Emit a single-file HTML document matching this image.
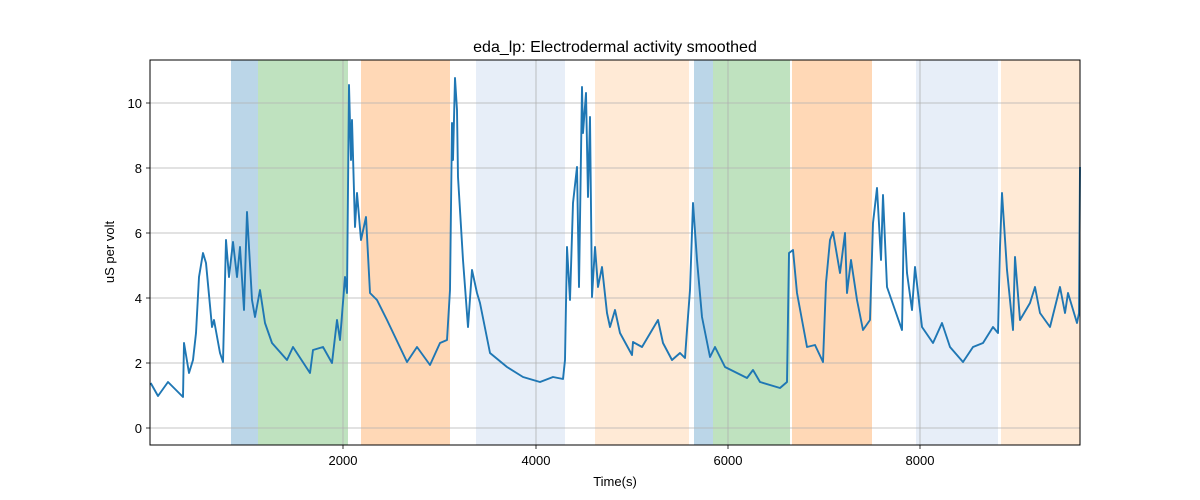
<!DOCTYPE html>
<html><head><meta charset="utf-8"><style>body{margin:0;background:#fff}svg{display:block;font-family:"Liberation Sans","DejaVu Sans",sans-serif}</style></head><body>
<svg width="1200" height="500" xmlns="http://www.w3.org/2000/svg">
<rect width="1200" height="500" fill="#fff"/>
<g>
<rect x="231" y="60" width="27" height="385" fill="#1f77b4" opacity="0.3"/>
<rect x="258" y="60" width="90" height="385" fill="#2ca02c" opacity="0.3"/>
<rect x="361" y="60" width="89" height="385" fill="#ff7f0e" opacity="0.3"/>
<rect x="476" y="60" width="89" height="385" fill="#aec7e8" opacity="0.3"/>
<rect x="595" y="60" width="94" height="385" fill="#ffbb78" opacity="0.3"/>
<rect x="694" y="60" width="19" height="385" fill="#1f77b4" opacity="0.3"/>
<rect x="713" y="60" width="77" height="385" fill="#2ca02c" opacity="0.3"/>
<rect x="792" y="60" width="80" height="385" fill="#ff7f0e" opacity="0.3"/>
<rect x="916" y="60" width="82" height="385" fill="#aec7e8" opacity="0.3"/>
<rect x="1001" y="60" width="79" height="385" fill="#ffbb78" opacity="0.3"/>
</g>
<g stroke="#b0b0b0" stroke-width="0.8">
<line x1="343" y1="60" x2="343" y2="445"/><line x1="536" y1="60" x2="536" y2="445"/><line x1="728" y1="60" x2="728" y2="445"/><line x1="920" y1="60" x2="920" y2="445"/>
<line x1="150" y1="428" x2="1080" y2="428"/><line x1="150" y1="363" x2="1080" y2="363"/><line x1="150" y1="298" x2="1080" y2="298"/><line x1="150" y1="233" x2="1080" y2="233"/><line x1="150" y1="168" x2="1080" y2="168"/><line x1="150" y1="103" x2="1080" y2="103"/>
</g>
<polyline fill="none" stroke="#1f77b4" stroke-width="1.9" stroke-linejoin="round" points="150.7,383 158,396 168,382 183,397 184,343 189,373 193,360 196,333 199,277 203,253 206,263 212,327 214,320 220,353 223,362 226,240 229,277 233,242 237,277 240,247 244,310 247,212 252,300 255,317 260,290 265,323 272,343 287,360 293,347 310,373 313,350 323,347 332,363 337,320 340,340 345,277 347,293 349,85 351,160 352,120 355,227 357,193 361,240 366,217 370,293 377,300 387,320 407,362 417,347 430,365 440,343 447,340 450,290 452,123 453,160 455,78 457,110 458,177 463,260 468,327 472,270 477,293 480,303 490,353 507,367 523,377 540,382 553,377 563,379 565,360 567,247 570,300 573,203 577,167 579,287 582,87 583,133 586,93 588,197 590,117 592,297 595,247 598,287 602,267 607,313 610,327 615,310 620,333 632,355 633,342 642,347 658,320 663,343 672,360 680,353 685,358 687,330 690,290 693,203 697,260 702,317 710,357 715,347 725,367 747,378 753,370 760,382 780,388 787,382 789,253 793,250 797,293 807,347 815,345 823,362 826,283 830,240 833,232 840,273 845,233 847,293 851,260 857,300 863,330 870,320 873,223 877,188 881,260 883,195 887,287 895,310 902,330 904,213 907,273 912,310 915,267 922,327 933,343 942,323 950,347 963,362 973,347 983,343 993,327 998,333 1000,247 1002,193 1007,270 1013,330 1015,257 1020,320 1030,303 1035,287 1040,313 1050,327 1060,287 1065,313 1068,293 1077,323 1079,313 1080,167"/>
<rect x="150" y="60" width="930" height="385" fill="none" stroke="#000" stroke-width="1"/>
<g stroke="#000" stroke-width="0.8">
<line x1="343" y1="445" x2="343" y2="449"/><line x1="536" y1="445" x2="536" y2="449"/><line x1="728" y1="445" x2="728" y2="449"/><line x1="920" y1="445" x2="920" y2="449"/>
<line x1="146" y1="428" x2="150" y2="428"/><line x1="146" y1="363" x2="150" y2="363"/><line x1="146" y1="298" x2="150" y2="298"/><line x1="146" y1="233" x2="150" y2="233"/><line x1="146" y1="168" x2="150" y2="168"/><line x1="146" y1="103" x2="150" y2="103"/>
</g>
<g font-size="13" fill="#000">
<g text-anchor="middle"><text x="343" y="465">2000</text><text x="536" y="465">4000</text><text x="728" y="465">6000</text><text x="920" y="465">8000</text></g>
<g text-anchor="end"><text x="142" y="433">0</text><text x="142" y="368">2</text><text x="142" y="303">4</text><text x="142" y="238">6</text><text x="142" y="173">8</text><text x="142" y="108">10</text></g>
<text x="615" y="486" text-anchor="middle">Time(s)</text>
<text transform="translate(114,252) rotate(-90)" text-anchor="middle">uS per volt</text>
<text x="615" y="52" text-anchor="middle" font-size="16">eda_lp: Electrodermal activity smoothed</text>
</g>
</svg>
</body></html>
